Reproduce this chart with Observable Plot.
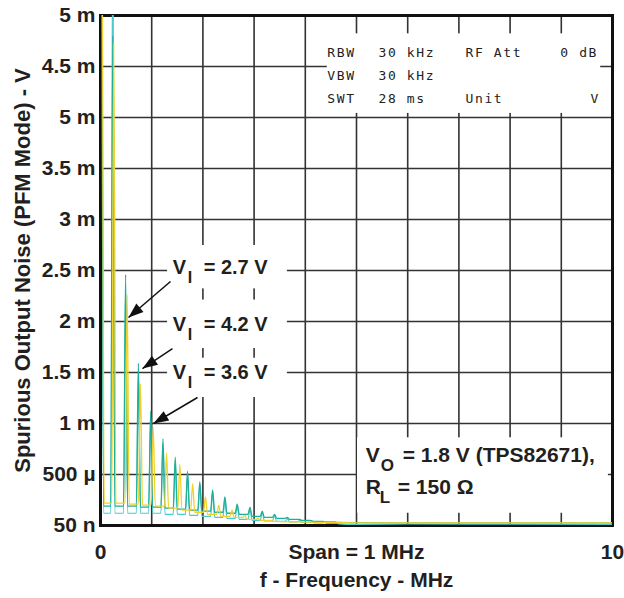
<!DOCTYPE html>
<html><head><meta charset="utf-8">
<script src="https://cdn.jsdelivr.net/npm/d3@7"></script>
<script src="https://cdn.jsdelivr.net/npm/@observablehq/plot@0.6"></script>
<style>
body{margin:0;background:#fff;}
g[font-family="DejaVu Sans Mono"] text{letter-spacing:1.6px;}
</style>
</head><body><div id="chart"></div>
<script>
// ---- data ----
const tealFreq    = [0.02, 0.24, 0.49, 0.74, 0.98, 1.22, 1.46, 1.70, 1.94, 2.19, 2.43, 2.67, 2.92, 3.16, 3.40, 3.65, 3.89, 4.13, 4.38, 4.62];
const greenPeak   = [6, 4.8, 2.46, 1.59, 1.12, 0.85, 0.67, 0.53, 0.43, 0.35, 0.28, 0.21, 0.18, 0.14, 0.11, 0.08, 0.06, 0.045, 0.035, 0.03];
const greenValley = [0.19, 0.19, 0.19, 0.18, 0.18, 0.17, 0.16, 0.15, 0.14, 0.13, 0.12, 0.11, 0.09, 0.08, 0.07, 0.06, 0.05, 0.04, 0.035, 0.03];
const greenTail   = [[5.0, 0.028], [6.0, 0.025], [10, 0.025]];
const cyanPeak    = [6, 6, 2.35, 1.5, 1.05, 0.8, 0.62, 0.5, 0.4, 0.32, 0.25, 0.2, 0.16, 0.13, 0.1, 0.07, 0.05, 0.04, 0.03, 0.02];
const cyanValley  = [0.12, 0.12, 0.12, 0.12, 0.12, 0.11, 0.11, 0.1, 0.09, 0.08, 0.07, 0.06, 0.05, 0.045, 0.04, 0.035, 0.03, 0.025, 0.02, 0.015];
const cyanTail    = [[5.0, 0.008], [6.0, 0.005], [10, 0.01]];
const yellowFreq  = [0.03, 0.26, 0.52, 0.78, 1.03, 1.29, 1.55, 1.80, 2.05, 2.31, 2.57, 2.82, 3.08, 3.34];
const yellowPeak  = [6, 4.73, 2.26, 1.39, 0.96, 0.71, 0.6, 0.41, 0.28, 0.2, 0.15, 0.1, 0.07, 0.05];
const yellowValley= [0.22, 0.22, 0.21, 0.2, 0.19, 0.17, 0.15, 0.13, 0.11, 0.09, 0.08, 0.06, 0.05, 0.04];
const yellowTail  = [[3.8, 0.035], [4.5, 0.03], [5.5, 0.025], [10, 0.025]];

const yTickValues = [0, 0.5, 1, 1.5, 2, 2.5, 3, 3.5, 4, 4.5, 5];
const yTickLabels = ["50 n", "500 µ", "1 m", "1.5 m", "2 m", "2.5 m", "3 m", "3.5 m", "5 m", "4.5 m", "5 m"];
const xTickValues = [0, 5, 10];
const xTickLabels = ["0", "Span = 1 MHz", "10"];
const xGrid = [1, 2, 3, 4, 5, 6, 7, 8, 9];
const yGrid = [0.5, 1, 1.5, 2, 2.5, 3, 3.5, 4, 4.5];
const inputVoltages = ["2.7 V", "4.2 V", "3.6 V"];
const settingsRows = [["RBW", "30 kHz", "RF Att", "0 dB"], ["VBW", "30 kHz", "", ""], ["SWT", "28 ms", "Unit", "V"]];
const xTitle = "f - Frequency - MHz";
const yTitle = "Spurious Output Noise (PFM Mode) - V";

// ---- layout ----
const W = 624, H = 598, ML = 100, MR = 12, MT = 15, MB = 73;
const kx = (W - ML - MR) / 10, ky = (H - MT - MB) / 5;
const ink = "#231f20";
const grid = "#333";

function trace(freq, peak, valley, tail) {
  const hw = 0.04;
  const pts = [{x: 0, y: peak[0]}];
  freq.forEach((f, i) => {
    if (i > 0) pts.push({x: f - hw, y: valley[i - 1]});
    pts.push({x: f, y: peak[i]});
    pts.push({x: f + hw, y: valley[i]});
  });
  tail.forEach(([x, y]) => pts.push({x, y}));
  return pts;
}
const cyanRows = trace(tealFreq, cyanPeak, cyanValley, cyanTail);
const greenRows = trace(tealFreq, greenPeak, greenValley, greenTail);
const yellowRows = trace(yellowFreq, yellowPeak, yellowValley, yellowTail);

const boxes = [
  {x1: 4.43, x2: 9.77, y1: 4.04, y2: 4.82},
  {x1: 5.02, x2: 9.92, y1: 0.12, y2: 0.86},
  {x1: 1.31, x2: 3.65, y1: 2.32, y2: 2.745},
  {x1: 1.31, x2: 3.65, y1: 1.735, y2: 2.21},
  {x1: 1.31, x2: 3.65, y1: 1.255, y2: 1.64}
];
const viY = [2.53, 1.97, 1.50];
const viLabels = inputVoltages.map((v, i) => ({v, x: 1.41, y: viY[i]}));
const arrows = [
  {x1: 1.367, y1: 2.392, x2: 0.547, y2: 2.039},
  {x1: 1.406, y1: 1.735, x2: 0.820, y2: 1.539},
  {x1: 1.895, y1: 1.255, x2: 1.035, y2: 1.0}
];
function head(a) {
  const phi = Math.atan2(-(a.y2 - a.y1) * ky, (a.x2 - a.x1) * kx);
  const L = 15, hw = 5.5;
  return {draw(ctx) {
    const bx = -L * Math.cos(phi), by = -L * Math.sin(phi);
    const px = -Math.sin(phi) * hw, py = Math.cos(phi) * hw;
    ctx.moveTo(0, 0);
    ctx.lineTo(bx + px, by + py);
    ctx.lineTo(bx - px, by - py);
    ctx.closePath();
  }};
}
const colX = [4.43, 5.43, 7.13, 8.98];
const rowY = [4.637, 4.412, 4.186];
const settingsCells = [];
settingsRows.forEach((row, r) => row.forEach((t, c) => {
  if (t) settingsCells.push({t, x: (t === "V" ? 9.57 : colX[c]), y: rowY[r]});
}));

const plot = Plot.plot({
  width: W, height: H, marginLeft: ML, marginRight: MR, marginTop: MT, marginBottom: MB,
  style: {fontFamily: "'Liberation Sans', Arial, sans-serif", fontSize: "21px", fontWeight: "bold", color: ink, background: "white"},
  x: {domain: [0, 10], ticks: xTickValues, tickFormat: d => xTickLabels[xTickValues.indexOf(d)], tickSize: 0, tickPadding: 19, label: null},
  y: {domain: [0, 5], ticks: yTickValues, tickFormat: d => yTickLabels[yTickValues.indexOf(d)], tickSize: 0, tickPadding: 5, label: null},
  marks: [
    Plot.ruleX(xGrid, {stroke: grid, strokeWidth: 1.6}),
    Plot.ruleY(yGrid, {stroke: grid, strokeWidth: 1.6}),
    Plot.rect(boxes, {x1: "x1", x2: "x2", y1: "y1", y2: "y2", fill: "white"}),
    Plot.frame({stroke: "#111", strokeWidth: 3}),
    Plot.line(cyanRows, {x: "x", y: "y", stroke: "#4cc8cf", strokeWidth: 1.2, curve: "monotone-x", clip: true}),
    Plot.line(greenRows, {x: "x", y: "y", stroke: "#1fae96", strokeWidth: 1.3, curve: "monotone-x", clip: true}),
    Plot.line(yellowRows, {x: "x", y: "y", stroke: "#f1d12c", strokeWidth: 1.3, curve: "monotone-x", clip: true}),
    Plot.link(arrows, {x1: "x1", y1: "y1", x2: "x2", y2: "y2", stroke: "#111", strokeWidth: 1.5}),
    ...arrows.map(a => Plot.dot([a], {x: "x2", y: "y2", symbol: head(a), fill: "#111", stroke: "none", r: 5})),
    Plot.text(viLabels, {x: "x", y: "y", text: () => "V", textAnchor: "start", fontSize: 20, fontWeight: "bold", fill: ink}),
    Plot.text(viLabels, {x: "x", y: "y", text: () => "I", textAnchor: "start", dx: 15, dy: 10, fontSize: 16, fontWeight: "bold", fill: ink}),
    Plot.text(viLabels, {x: "x", y: "y", text: d => "= " + d.v, textAnchor: "start", dx: 31, fontSize: 20, fontWeight: "bold", fill: ink}),
    Plot.text([0], {x: 5.18, y: 0.686, text: () => "V", textAnchor: "start", fontSize: 21, fontWeight: "bold", fill: ink}),
    Plot.text([0], {x: 5.18, y: 0.686, text: () => "O", textAnchor: "start", dx: 15, dy: 10, fontSize: 17, fontWeight: "bold", fill: ink}),
    Plot.text([0], {x: 5.18, y: 0.686, text: () => "= 1.8 V (TPS82671),", textAnchor: "start", dx: 37, fontSize: 21, fontWeight: "bold", fill: ink}),
    Plot.text([0], {x: 5.18, y: 0.373, text: () => "R", textAnchor: "start", fontSize: 21, fontWeight: "bold", fill: ink}),
    Plot.text([0], {x: 5.18, y: 0.373, text: () => "L", textAnchor: "start", dx: 14, dy: 10, fontSize: 17, fontWeight: "bold", fill: ink}),
    Plot.text([0], {x: 5.18, y: 0.373, text: () => "= 150 Ω", textAnchor: "start", dx: 32, fontSize: 21, fontWeight: "bold", fill: ink}),
    Plot.text(settingsCells, {x: "x", y: "y", text: "t", textAnchor: "start", fontFamily: "DejaVu Sans Mono", fontSize: 13, fontWeight: "normal", fill: "#222"}),
    Plot.text([yTitle], {frameAnchor: "left", dx: -78, rotate: -90, textAnchor: "middle", text: d => d, fontSize: 22, fontWeight: "bold", fill: ink}),
    Plot.text([xTitle], {frameAnchor: "bottom", dy: 55, textAnchor: "middle", lineAnchor: "middle", text: d => d, fontSize: 21, fontWeight: "bold", fill: ink})
  ]
});
document.getElementById("chart").appendChild(plot);
</script></body></html>
